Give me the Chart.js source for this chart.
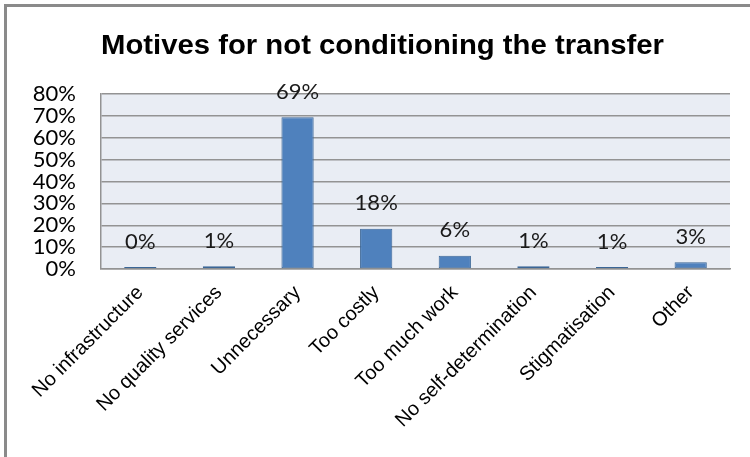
<!DOCTYPE html>
<html><head><meta charset="utf-8">
<script src="https://cdn.jsdelivr.net/npm/chart.js@4"></script>
<style>
html,body{margin:0;padding:0;overflow:hidden;background:#fff;}
#frame{position:absolute;left:4px;top:4px;width:800px;height:500px;border:3px solid #8a8a8a;box-sizing:border-box;}
#wrap{position:absolute;left:0;top:0;width:750px;height:457px;}
</style></head><body>
<div id="frame"></div>
<div id="wrap"><canvas id="c"></canvas></div>
<script>
const categories = ["No infrastructure","No quality services","Unnecessary","Too costly","Too much work","No self-determination","Stigmatisation","Other"];
const values = [0.45, 1.3, 69.4, 18.4, 6.1, 1.3, 0.55, 3.1];
const yMin = 0, yMax = 80, yStep = 10;
const titleText = "Motives for not conditioning the transfer";

const bgPlugin = {
  id: 'bg',
  beforeDraw(chart) {
    const {ctx, chartArea: a} = chart;
    ctx.save();
    ctx.fillStyle = '#e9edf4';
    ctx.fillRect(a.left, a.top, a.right - a.left, a.bottom - a.top);
    ctx.restore();
  }
};
const titlePlugin = {
  id: 'ttl',
  afterDraw(chart) {
    const ctx = chart.ctx;
    ctx.save();
    ctx.font = 'bold 28px "Liberation Sans", Arial, sans-serif';
    ctx.fillStyle = '#000';
    ctx.textBaseline = 'alphabetic';
    const w = ctx.measureText(titleText).width;
    const target = 563;
    const sx = target / w;
    ctx.translate(382.5, 54);
    ctx.scale(sx, 1);
    ctx.textAlign = 'center';
    ctx.fillText(titleText, 0, 0);
    ctx.restore();
  }
};
const labelPlugin = {
  id: 'lbl',
  afterDatasetsDraw(chart) {
    const ctx = chart.ctx;
    const meta = chart.getDatasetMeta(0);
    ctx.save();
    ctx.font = '22px Lato, "Open Sans", sans-serif';
    ctx.fillStyle = '#1a1a1a';
    ctx.textAlign = 'center';
    ctx.textBaseline = 'alphabetic';
    meta.data.forEach((bar, i) => {
      ctx.fillText(Math.round(values[i]) + '%', bar.x, bar.y - 18.5);
    });
    ctx.restore();
  }
};

new Chart(document.getElementById('c'), {
  type: 'bar',
  data: {
    labels: categories,
    datasets: [{
      data: values,
      backgroundColor: '#4f81bd',
      borderColor: '#3b6696',
      borderWidth: 1,
      borderSkipped: false,
      minBarLength: 2,
      barPercentage: 0.41,
      categoryPercentage: 1.0
    }]
  },
  options: {
    responsive: true,
    maintainAspectRatio: false,
    animation: false,
    layout: {padding: {top: 94, right: 20, left: 0, bottom: 0}},
    plugins: {legend: {display: false}, tooltip: {enabled: false}, title: {display: false}},
    scales: {
      y: {
        min: yMin, max: yMax,
        afterFit(s) { s.width = 101; },
        ticks: {stepSize: yStep, autoSkip: false, callback: v => v + '%', color: '#000', padding: 25,
                font: {family: 'Lato, "Open Sans", sans-serif', size: 22, lineHeight: 1}},
        grid: {color: '#939393', lineWidth: 1.5, drawTicks: false},
        border: {color: '#939393', width: 1.5}
      },
      x: {
        afterFit(s) { s.height = 188; },
        ticks: {minRotation: 45, maxRotation: 45, autoSkip: false, color: '#000', padding: 12,
                font: {family: '"Liberation Sans", Arial, sans-serif', size: 20}},
        grid: {display: false, drawTicks: false},
        border: {color: '#939393', width: 1.5}
      }
    }
  },
  plugins: [bgPlugin, titlePlugin, labelPlugin]
});
</script>
</body></html>
